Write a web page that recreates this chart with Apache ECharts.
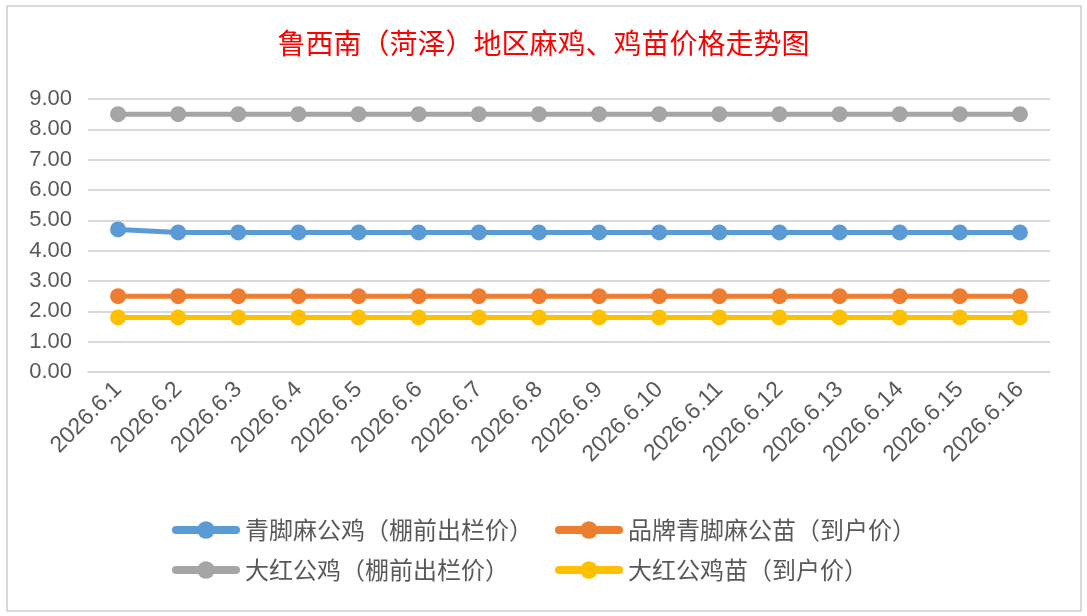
<!DOCTYPE html>
<html lang="zh">
<head>
    <meta charset="UTF-8"/>
    <title>鲁西南（菏泽）地区麻鸡、鸡苗价格走势图</title>
    <script src="https://cdn.jsdelivr.net/npm/echarts@6/dist/echarts.min.js"></script>
    <style>
        html, body { margin: 0; padding: 0; background: #fff; }
        #chartMain { width: 1087px; height: 616px; }
        #chartBorder {
            position: absolute; left: 6px; top: 5px; width: 1072px; height: 603px;
            border: 2px solid #d9d9d9; pointer-events: none;
        }
    </style>
</head>
<body>
<div id="chartMain"></div>
<div id="chartBorder"></div>
<script type="text/javascript">
    // 日期
    var dates = ['2026.6.1', '2026.6.2', '2026.6.3', '2026.6.4', '2026.6.5', '2026.6.6', '2026.6.7', '2026.6.8',
        '2026.6.9', '2026.6.10', '2026.6.11', '2026.6.12', '2026.6.13', '2026.6.14', '2026.6.15', '2026.6.16'];
    // 各系列价格
    var qingjiaoGongji = [4.7, 4.6, 4.6, 4.6, 4.6, 4.6, 4.6, 4.6, 4.6, 4.6, 4.6, 4.6, 4.6, 4.6, 4.6, 4.6];
    var pinpaiGongmiao = [2.5, 2.5, 2.5, 2.5, 2.5, 2.5, 2.5, 2.5, 2.5, 2.5, 2.5, 2.5, 2.5, 2.5, 2.5, 2.5];
    var dahongGongji = [8.5, 8.5, 8.5, 8.5, 8.5, 8.5, 8.5, 8.5, 8.5, 8.5, 8.5, 8.5, 8.5, 8.5, 8.5, 8.5];
    var dahongJimiao = [1.8, 1.8, 1.8, 1.8, 1.8, 1.8, 1.8, 1.8, 1.8, 1.8, 1.8, 1.8, 1.8, 1.8, 1.8, 1.8];
    var seriesNames = ['青脚麻公鸡（棚前出栏价）', '品牌青脚麻公苗（到户价）', '大红公鸡（棚前出栏价）', '大红公鸡苗（到户价）'];

    var textColor = '#595959';
    var cjkFont = '"Noto Sans CJK SC", sans-serif';
    var numFont = '"Liberation Sans", Arial, sans-serif';

    function makeSeries(name, data, color) {
        return {
            name: name,
            type: 'line',
            data: data,
            symbol: 'circle',
            symbolSize: 16,
            lineStyle: {width: 5, color: color},
            itemStyle: {color: color},
            z: 3
        };
    }

    function makeLegend(name, left, top) {
        return {
            data: [name],
            left: left,
            top: top,
            itemWidth: 60,
            itemHeight: 22,
            itemGap: 0,
            lineStyle: {width: 8, cap: 'round'},
            textStyle: {fontSize: 24, color: textColor, fontFamily: cjkFont, padding: [0, 0, 0, 4]}
        };
    }

    var myChart = echarts.init(document.getElementById('chartMain'));
    var option = {
        animation: false,
        backgroundColor: '#fff',
        title: {
            text: '鲁西南（菏泽）地区麻鸡、鸡苗价格走势图',
            left: 'center',
            top: 24,
            textStyle: {color: '#ff0000', fontSize: 28, fontWeight: 'normal', fontFamily: cjkFont}
        },
        legend: [
            makeLegend(seriesNames[0], 167, 513),
            makeLegend(seriesNames[1], 550, 513),
            makeLegend(seriesNames[2], 167, 553),
            makeLegend(seriesNames[3], 550, 553)
        ],
        grid: {left: 88, right: 37, top: 99, bottom: 244, containLabel: false},
        xAxis: {
            type: 'category',
            data: dates,
            boundaryGap: true,
            axisLine: {show: true, lineStyle: {color: '#d9d9d9', width: 2}},
            axisTick: {show: false},
            axisLabel: {
                rotate: 45,
                interval: 0,
                margin: 14,
                fontSize: 23,
                color: textColor,
                fontFamily: numFont
            }
        },
        yAxis: {
            type: 'value',
            min: 0,
            max: 9,
            interval: 1,
            axisLine: {show: false},
            axisTick: {show: false},
            splitLine: {lineStyle: {color: '#d9d9d9', width: 2}},
            axisLabel: {
                margin: 16,
                fontSize: 22,
                color: textColor,
                fontFamily: numFont,
                formatter: function (v) { return v.toFixed(2); }
            }
        },
        series: [
            makeSeries(seriesNames[0], qingjiaoGongji, '#5b9bd5'),
            makeSeries(seriesNames[1], pinpaiGongmiao, '#ed7d31'),
            makeSeries(seriesNames[2], dahongGongji, '#a5a5a5'),
            makeSeries(seriesNames[3], dahongJimiao, '#ffc000')
        ]
    };
    myChart.setOption(option);
</script>
</body>
</html>
